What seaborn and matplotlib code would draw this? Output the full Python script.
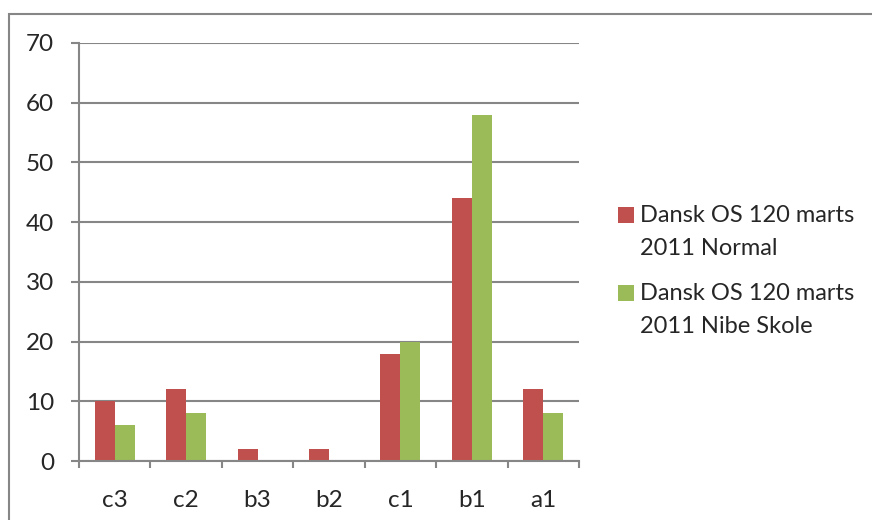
import matplotlib
matplotlib.use("Agg")
import pandas as pd
import numpy as np
import matplotlib.pyplot as plt
import seaborn as sns
from matplotlib.patches import Rectangle
from matplotlib.legend_handler import HandlerBase

categories = ["c3", "c2", "b3", "b2", "c1", "b1", "a1"]
normal = [10, 12, 2, 2, 18, 44, 12]
nibe = [6, 8, 0, 0, 20, 58, 8]
series_names = ["Dansk OS 120 marts\n2011 Normal", "Dansk OS 120 marts\n2011 Nibe Skole"]
colors = ["#C0504D", "#9BBB59"]
yticks = [0, 10, 20, 30, 40, 50, 60, 70]

df = pd.DataFrame({
    "cat": categories * 2,
    "value": normal + nibe,
    "series": [series_names[0]] * len(categories) + [series_names[1]] * len(categories),
})

sns.set_style("white")
plt.rcParams["font.family"] = ["Lato", "DejaVu Sans"]
grey = "#868686"


# legend square sits next to the first text line, like Excel does
class TopSquare(HandlerBase):
    def create_artists(self, legend, orig_handle, xdescent, ydescent,
                       width, height, fontsize, trans):
        size = 11.5
        y = -ydescent + height / 2 - size / 2 + 12.5
        r = Rectangle((-xdescent, y), size, size,
                      facecolor=orig_handle.get_facecolor(), lw=0, transform=trans)
        return [r]


fig = plt.figure(figsize=(8.72, 5.2), dpi=100)
ax = fig.add_axes([79/872, 1 - 461/520, 500/872, 418/520])

sns.barplot(data=df, x="cat", y="value", hue="series", order=categories,
            hue_order=series_names, palette=colors, width=0.56, gap=0,
            saturation=1, linewidth=0, ax=ax, legend=True)

ax.set_ylim(0, 70)
ax.set_xlim(-0.5, len(categories) - 0.5)
ax.set_yticks(yticks)
ax.set_xlabel("")
ax.set_ylabel("")
ax.yaxis.grid(True, color=grey, lw=1.5)
ax.set_axisbelow(True)
for s in ["top", "right"]:
    ax.spines[s].set_visible(False)
for s in ["left", "bottom"]:
    ax.spines[s].set_color(grey)
    ax.spines[s].set_linewidth(1.5)

ax.tick_params(axis="y", direction="out", length=6, width=1.5, color=grey,
               labelsize=17.5, pad=12, left=True)
ax.tick_params(axis="x", which="major", length=0, labelsize=17.5, pad=21)
ax.set_xticks(np.arange(-0.5, len(categories), 1), minor=True)
ax.tick_params(axis="x", which="minor", direction="out", length=5, width=1.5,
               color=grey, bottom=True)

handles, labels = ax.get_legend_handles_labels()
leg = ax.legend(handles, labels, loc="center left", bbox_to_anchor=(618/872, 1 - 271/520),
                bbox_transform=fig.transFigure, frameon=False, fontsize=17,
                handlelength=0.68, handleheight=0.68, handletextpad=0.25,
                labelspacing=1.05, borderpad=0, borderaxespad=0,
                handler_map={type(handles[0]): TopSquare()})
for t in leg.get_texts():
    t.set_linespacing(1.68)

fig.patches.append(Rectangle((9/872, -0.1), 1.0, 1 - 14/520 + 0.1,
                             transform=fig.transFigure, fill=False,
                             edgecolor=grey, lw=1.5))

plt.savefig("out.png", dpi=100)
